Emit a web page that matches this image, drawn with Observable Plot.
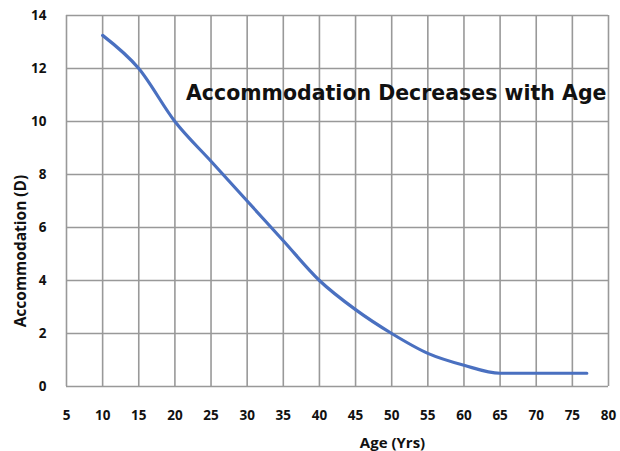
<!DOCTYPE html>
<html>
<head>
<meta charset="utf-8">
<script src="https://cdn.jsdelivr.net/npm/d3@7"></script>
<script src="https://cdn.jsdelivr.net/npm/@observablehq/plot@0.6"></script>
<style>
  html, body { margin: 0; padding: 0; background: #fff; }
  svg { display: block; }
</style>
</head>
<body>
<div id="chart"></div>
<script>
const ages = [10, 15, 20, 25, 30, 35, 40, 45, 50, 55, 60, 65, 70, 77];
const accommodation = [13.25, 12.0, 10.0, 8.5, 7.0, 5.5, 4.0, 2.9, 2.0, 1.25, 0.8, 0.5, 0.5, 0.5];
const xTicks = [5, 10, 15, 20, 25, 30, 35, 40, 45, 50, 55, 60, 65, 70, 75, 80];
const yTicks = [0, 2, 4, 6, 8, 10, 12, 14];
const titleText = "Accommodation Decreases with Age";
const xLabel = "Age (Yrs)";
const yLabel = "Accommodation (D)";

const data = ages.map((a, i) => ({age: a, acc: accommodation[i]}));
const font = "'Open Sans', Lato, sans-serif";
const gridColor = "#999999";

const chart = Plot.plot({
  width: 620,
  height: 451,
  marginLeft: 66,
  marginRight: 12,
  marginTop: 15,
  marginBottom: 65,
  style: {fontFamily: font, fontSize: "13px", fontWeight: "bold", color: "#111", background: "#fff"},
  x: {domain: [5, 80], ticks: xTicks},
  y: {domain: [0, 14], ticks: yTicks},
  marks: [
    Plot.ruleX(xTicks, {stroke: gridColor, strokeWidth: 1.6}),
    Plot.ruleY(yTicks, {stroke: gridColor, strokeWidth: 1.6}),
    Plot.axisX({ticks: xTicks, tickSize: 0, tickPadding: 24, label: null, fontWeight: "bold", fontSize: 13.5}),
    Plot.axisY({ticks: yTicks, tickSize: 0, tickPadding: 20, label: null, fontWeight: "bold", fontSize: 13.5}),
    Plot.line(data, {x: "age", y: "acc", curve: "monotone-x", stroke: "#4a70c0", strokeWidth: 3.2}),
    Plot.text([titleText], {frameAnchor: "top-right", dx: -2, dy: 70, text: d => d, fontFamily: "'DejaVu Sans', sans-serif", fontSize: 20.5, fontWeight: "bold", fill: "#111", textAnchor: "end"}),
    Plot.text([xLabel], {frameAnchor: "bottom", dx: 55, dy: 61, text: d => d, fontSize: 15, fontWeight: "bold", fill: "#111"}),
    Plot.text([yLabel], {frameAnchor: "left", textAnchor: "middle", dx: -45, dy: 50, rotate: -90, text: d => d, fontSize: 15.5, fontWeight: "bold", fill: "#111"})
  ]
});
document.getElementById("chart").appendChild(chart);
</script>
</body>
</html>
